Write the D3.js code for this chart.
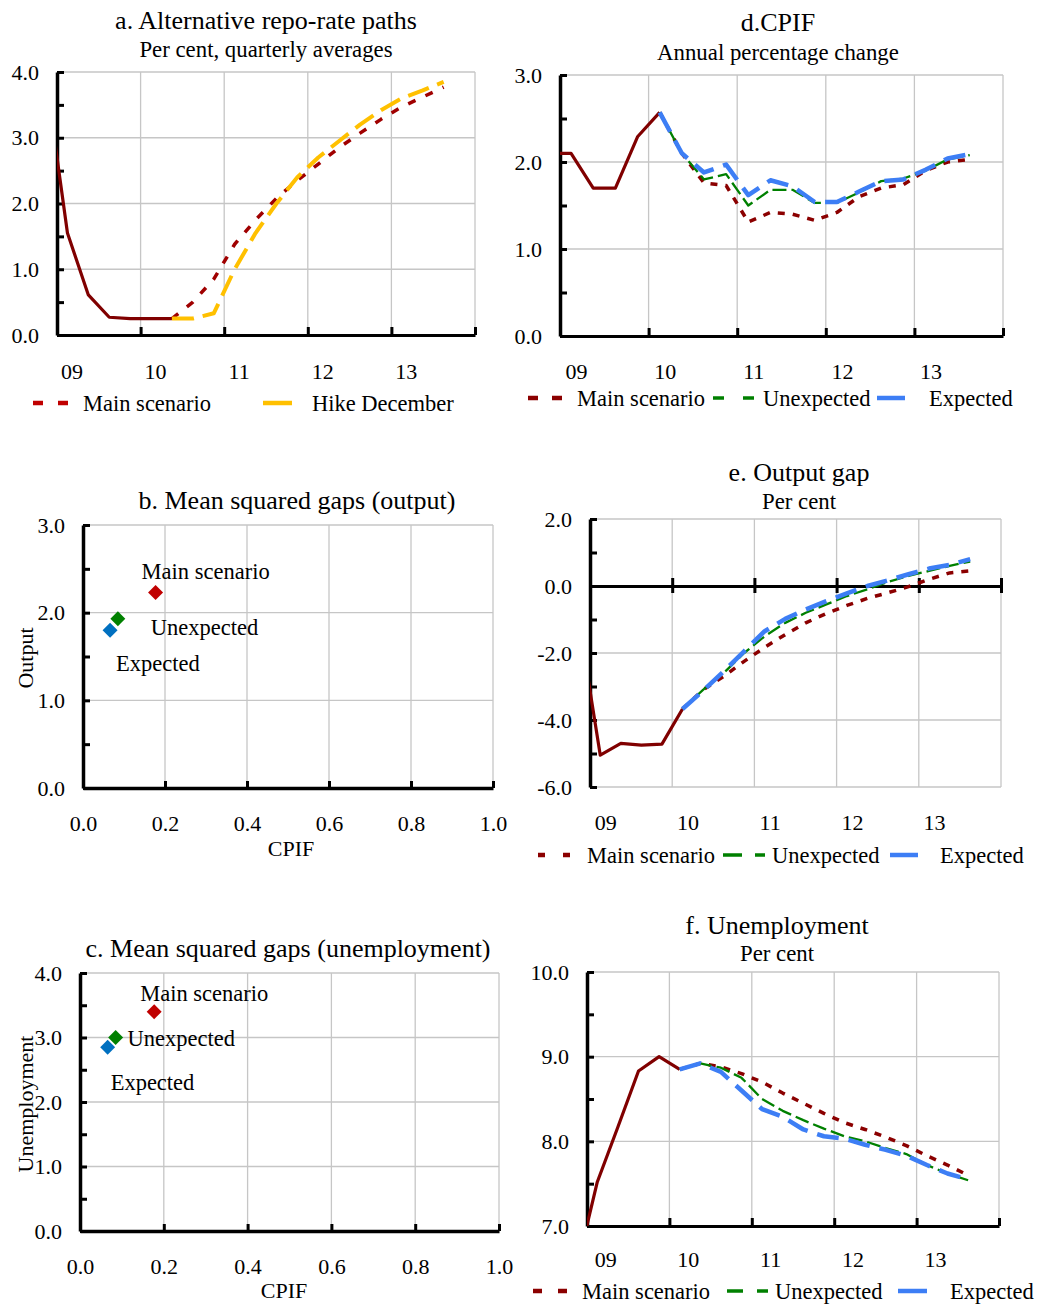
<!DOCTYPE html>
<html>
<head>
<meta charset="utf-8">
<title>Repo-rate paths</title>
<script src="https://d3js.org/d3.v7.min.js"></script>
<style>
  body { margin: 0; background: #fff; }
  svg text { font-family: "Liberation Serif", "Times New Roman", serif; fill: #000; }
</style>
</head>
<body>
<script>
  // quarters shown in the line panels (2008Q4 lies left of the axis and gets clipped)
  const quarters = ["2008Q4",
    "2009Q1","2009Q2","2009Q3","2009Q4",
    "2010Q1","2010Q2","2010Q3","2010Q4",
    "2011Q1","2011Q2","2011Q3","2011Q4",
    "2012Q1","2012Q2","2012Q3","2012Q4",
    "2013Q1","2013Q2","2013Q3"];
  const yearLabels = ["09", "10", "11", "12", "13"];

  // a. repo rate
  const repoOutcome = [3.85, 1.55, 0.61, 0.27, 0.25, 0.25, 0.25];
  const repoMain    = [0.25, 0.5, 0.85, 1.38, 1.75, 2.08, 2.35, 2.6, 2.85, 3.07, 3.28, 3.47, 3.62, 3.77];
  const repoHike    = [0.25, 0.25, 0.33, 1.0, 1.55, 2.0, 2.4, 2.7, 2.95, 3.2, 3.42, 3.6, 3.72, 3.85];

  // d. CPIF
  const cpifOutcome = [2.1, 2.1, 1.7, 1.7, 2.29, 2.57];
  const cpifMain    = [2.57, 2.1, 1.76, 1.73, 1.31, 1.42, 1.4, 1.33, 1.42, 1.6, 1.7, 1.74, 1.9, 2.0, 2.03];
  const cpifUnexp   = [2.57, 2.1, 1.8, 1.86, 1.5, 1.68, 1.68, 1.53, 1.53, 1.65, 1.78, 1.81, 1.9, 2.03, 2.08];
  const cpifExp     = [2.57, 2.1, 1.88, 1.97, 1.62, 1.79, 1.72, 1.54, 1.54, 1.66, 1.78, 1.8, 1.91, 2.04, 2.09];

  // e. output gap
  const gapOutcome = [-1.2, -5.05, -4.7, -4.75, -4.72, -3.67];
  const gapMain    = [-3.67, -3.1, -2.7, -2.25, -1.83, -1.45, -1.1, -0.82, -0.58, -0.37, -0.2, -0.02, 0.2, 0.39, 0.45];
  const gapUnexp   = [-3.67, -3.1, -2.6, -2.0, -1.5, -1.1, -0.8, -0.55, -0.3, -0.1, 0.12, 0.3, 0.45, 0.6, 0.73];
  const gapExp     = [-3.67, -3.13, -2.55, -1.95, -1.35, -0.98, -0.7, -0.45, -0.22, 0.0, 0.17, 0.35, 0.52, 0.63, 0.8];

  // f. unemployment
  const unempOutcome = [6.5, 7.52, 8.17, 8.83, 9.0, 8.85];
  const unempMain    = [8.85, 8.92, 8.88, 8.8, 8.7, 8.57, 8.45, 8.33, 8.22, 8.14, 8.05, 7.95, 7.83, 7.72, 7.6];
  const unempUnexp   = [8.85, 8.92, 8.87, 8.75, 8.5, 8.36, 8.25, 8.15, 8.06, 8.0, 7.92, 7.85, 7.72, 7.62, 7.54];
  const unempExp     = [8.85, 8.92, 8.82, 8.6, 8.38, 8.29, 8.14, 8.06, 8.03, 7.96, 7.9, 7.83, 7.72, 7.62, 7.55];

  // b, c. mean squared gaps
  const scenarioNames = ["Main scenario", "Unexpected", "Expected"];
  const msgCpif   = [0.177, 0.085, 0.066];
  const msgOutput = [2.23, 1.93, 1.80];
  const msgUnemp  = [3.40, 3.00, 2.85];

  // where the forecasts start in the quarters list
  const outcomeStart = 0;
  const repoForecastStart = 6;   // 2010Q2
  const forecastStart = 5;       // 2010Q1

  // align a series to the quarters list
  function pad(start, vals) {
    const out = quarters.map(() => null);
    vals.forEach((v, i) => out[start + i] = v);
    return out;
  }

  const W = 1038, H = 1305;
  const gridColor = "#c6c6c6";
  const tickFont = "22px", textFont = "22.5px";
  const styles = {
    outcome: { color: "#800000", width: 3.2, dash: null },
    mainA:   { color: "#a00000", width: 3.5, dash: "8,11" },
    hike:    { color: "#FFC000", width: 4,   dash: "22,9" },
    main:    { color: "#8b0000", width: 3.5, dash: "7,8" },
    unexp:   { color: "#008000", width: 2.3, dash: "14,5" },
    exp:     { color: "#3d7ef5", width: 4.5, dash: "22,10" }
  };
  const scatterColors = ["#c00000", "#008000", "#0070c0"];

  const svg = d3.select("body").append("svg")
    .attr("width", W)
    .attr("height", H);
  const defs = svg.append("defs");

  function title(x, y, text, size) {
    svg.append("text")
      .attr("x", x).attr("y", y)
      .attr("text-anchor", "middle")
      .attr("dy", "0.35em")
      .style("font-size", size + "px")
      .text(text);
  }

  function styleAxis(sel, domainWidth) {
    sel.attr("font-family", null).attr("font-size", null);
    sel.select(".domain").attr("stroke", "#000").attr("stroke-width", domainWidth);
    sel.selectAll(".tick line").attr("stroke", "#000").attr("stroke-width", 3);
    sel.selectAll(".tick text").style("font-size", tickFont);
  }

  function legend(y, items) {
    items.forEach(it => {
      const st = styles[it.style];
      svg.append("line")
        .attr("x1", it.x0).attr("x2", it.x1)
        .attr("y1", y).attr("y2", y)
        .attr("stroke", it.color || st.color)
        .attr("stroke-width", it.w)
        .attr("stroke-dasharray", it.dash);
      svg.append("text")
        .attr("x", it.tx).attr("y", y)
        .attr("dy", "0.35em")
        .style("font-size", textFont)
        .text(it.label);
    });
  }

  function drawLinePanel(p) {
    const g = svg.append("g");
    const x = d3.scaleLinear().domain([1, 21]).range([p.left, p.right]);
    const y = d3.scaleLinear().domain(p.yDomain).range([p.bottom, p.top]);
    const yearBounds = [1, 5, 9, 13, 17, 21];

    // gridlines
    g.append("g").selectAll("line").data(p.yGrid).join("line")
      .attr("x1", p.left).attr("x2", p.right)
      .attr("y1", d => y(d)).attr("y2", d => y(d))
      .attr("stroke", gridColor).attr("stroke-width", 1.3);
    g.append("g").selectAll("line").data(yearBounds.slice(1)).join("line")
      .attr("x1", d => x(d)).attr("x2", d => x(d))
      .attr("y1", p.top).attr("y2", p.bottom)
      .attr("stroke", gridColor).attr("stroke-width", 1.3);

    // y axis
    const ya = g.append("g")
      .attr("transform", `translate(${p.left},0)`)
      .call(d3.axisLeft(y).tickValues(p.yMajor).tickFormat(d => d.toFixed(1))
        .tickSizeInner(-7).tickSizeOuter(0).tickPadding(18));
    styleAxis(ya, 3.5);
    const ym = g.append("g")
      .attr("transform", `translate(${p.left},0)`)
      .call(d3.axisLeft(y).tickValues(p.yMinor).tickFormat("")
        .tickSizeInner(-7).tickSizeOuter(0));
    styleAxis(ym, 0);
    ym.select(".domain").remove();

    // x axis (at zero in the output gap panel)
    const xY = y(p.xAxisAt);
    const xa = g.append("g")
      .attr("transform", `translate(0,${xY})`)
      .call(d3.axisBottom(x).tickValues(yearBounds).tickFormat("")
        .tickSizeInner(p.crossTicks ? 7 : 0).tickSizeOuter(0));
    styleAxis(xa, 3);
    const xt = g.append("g")
      .attr("transform", `translate(0,${xY})`)
      .call(d3.axisBottom(x).tickValues(yearBounds).tickFormat("")
        .tickSizeInner(-8).tickSizeOuter(0));
    styleAxis(xt, 0);
    xt.select(".domain").remove();

    // year labels under the plot
    const xl = g.append("g")
      .attr("transform", `translate(${p.labelDx},${p.bottom + p.labelGap})`)
      .call(d3.axisBottom(x).tickValues([1.5, 5.5, 9.5, 13.5, 17.5])
        .tickFormat((d, i) => yearLabels[i]).tickSize(0));
    styleAxis(xl, 0);
    xl.select(".domain").remove();
    xl.selectAll("text").attr("y", 0).attr("dy", "0.35em");

    // series
    const clipId = "clip-" + p.id;
    defs.append("clipPath").attr("id", clipId)
      .append("rect")
      .attr("x", p.left).attr("y", p.top)
      .attr("width", p.right - p.left).attr("height", p.bottom - p.top);

    const line = d3.line()
      .defined(d => d.v != null)
      .x(d => x(d.k + 0.5))
      .y(d => y(d.v));

    p.series.forEach(s => {
      const st = styles[s.style];
      const pts = s.values.map((v, k) => ({ k: k, v: v }));
      g.append("path")
        .datum(pts)
        .attr("clip-path", `url(#${clipId})`)
        .attr("d", line)
        .attr("fill", "none")
        .attr("stroke", st.color)
        .attr("stroke-width", st.width)
        .attr("stroke-dasharray", st.dash)
        .attr("stroke-linejoin", "round");
    });
  }

  function drawScatterPanel(p) {
    const g = svg.append("g");
    const x = d3.scaleLinear().domain([0, 1]).range([p.left, p.right]);
    const y = d3.scaleLinear().domain(p.yDomain).range([p.bottom, p.top]);
    const xTicks = [0, 0.2, 0.4, 0.6, 0.8, 1.0];

    g.append("g").selectAll("line").data(p.yMajor.slice(1)).join("line")
      .attr("x1", p.left).attr("x2", p.right)
      .attr("y1", d => y(d)).attr("y2", d => y(d))
      .attr("stroke", gridColor).attr("stroke-width", 1.3);
    g.append("g").selectAll("line").data(xTicks.slice(1)).join("line")
      .attr("x1", d => x(d)).attr("x2", d => x(d))
      .attr("y1", p.top).attr("y2", p.bottom)
      .attr("stroke", gridColor).attr("stroke-width", 1.3);

    const ya = g.append("g")
      .attr("transform", `translate(${p.left},0)`)
      .call(d3.axisLeft(y).tickValues(p.yMajor).tickFormat(d => d.toFixed(1))
        .tickSizeInner(-7).tickSizeOuter(0).tickPadding(18));
    styleAxis(ya, 3.5);
    const ym = g.append("g")
      .attr("transform", `translate(${p.left},0)`)
      .call(d3.axisLeft(y).tickValues(p.yMinor).tickFormat("")
        .tickSizeInner(-7).tickSizeOuter(0));
    styleAxis(ym, 0);
    ym.select(".domain").remove();

    const xa = g.append("g")
      .attr("transform", `translate(0,${p.bottom})`)
      .call(d3.axisBottom(x).tickValues(xTicks).tickFormat(d => d.toFixed(1))
        .tickSizeInner(-7).tickSizeOuter(0));
    styleAxis(xa, 3.5);
    xa.selectAll("text").attr("y", 35).attr("dy", "0.35em");

    // axis titles
    svg.append("text")
      .attr("transform", `translate(${p.yTitleX},${p.yTitleY}) rotate(-90)`)
      .attr("text-anchor", "middle")
      .attr("dy", "0.35em")
      .style("font-size", tickFont)
      .text(p.yTitle);
    svg.append("text")
      .attr("x", p.xTitleX).attr("y", p.xTitleY)
      .attr("text-anchor", "middle")
      .attr("dy", "0.35em")
      .style("font-size", tickFont)
      .text("CPIF");

    const pts = scenarioNames.map((n, i) => ({ name: n, cx: msgCpif[i], cy: p.values[i], i: i }));
    const diamond = d3.symbol().type(d3.symbolSquare).size(112);
    g.selectAll("path.pt").data(pts).join("path")
      .attr("class", "pt")
      .attr("d", diamond)
      .attr("transform", d => `translate(${x(d.cx)},${y(d.cy)}) rotate(45)`)
      .attr("fill", d => scatterColors[d.i]);

    g.selectAll("text.lab").data(pts).join("text")
      .attr("class", "lab")
      .attr("x", d => x(d.cx) + p.labelOffsets[d.i][0])
      .attr("y", d => y(d.cy) + p.labelOffsets[d.i][1])
      .attr("dy", "0.35em")
      .style("font-size", textFont)
      .text(d => d.name);
  }

  // ---- a. Alternative repo-rate paths
  title(266, 20, "a. Alternative repo-rate paths", 26);
  title(266, 49, "Per cent, quarterly averages", 22.8);
  drawLinePanel({
    id: "a", left: 57, right: 475, top: 72, bottom: 335,
    yDomain: [0, 4], yMajor: [0, 1, 2, 3, 4], yMinor: [0.5, 1.5, 2.5, 3.5], yGrid: [1, 2, 3, 4],
    xAxisAt: 0, labelDx: 4, labelGap: 36,
    series: [
      { style: "outcome", values: pad(outcomeStart, repoOutcome) },
      { style: "mainA", values: pad(repoForecastStart, repoMain) },
      { style: "hike", values: pad(repoForecastStart, repoHike) }
    ]
  });
  legend(403, [
    { style: "mainA", color: "#c00000", x0: 33, x1: 68, w: 4.5, dash: "10,15", tx: 83, label: "Main scenario" },
    { style: "hike", x0: 263, x1: 292, w: 4.5, dash: null, tx: 312, label: "Hike December" }
  ]);

  // ---- d. CPIF
  title(778, 22, "d.CPIF", 26);
  title(778, 52, "Annual percentage change", 22.8);
  drawLinePanel({
    id: "d", left: 560, right: 1003, top: 75, bottom: 336,
    yDomain: [0, 3], yMajor: [0, 1, 2, 3], yMinor: [0.5, 1.5, 2.5], yGrid: [1, 2, 3],
    xAxisAt: 0, labelDx: 5, labelGap: 35,
    series: [
      { style: "outcome", values: pad(outcomeStart, cpifOutcome) },
      { style: "main", values: pad(forecastStart, cpifMain) },
      { style: "unexp", values: pad(forecastStart, cpifUnexp) },
      { style: "exp", values: pad(forecastStart, cpifExp) }
    ]
  });
  legend(398, [
    { style: "main", x0: 528, x1: 562, w: 4.5, dash: "10,14", tx: 577, label: "Main scenario" },
    { style: "unexp", x0: 713, x1: 755, w: 3.5, dash: "11,19", tx: 763, label: "Unexpected" },
    { style: "exp", x0: 877, x1: 905, w: 4.5, dash: null, tx: 929, label: "Expected" }
  ]);

  // ---- b. Mean squared gaps (output)
  title(297, 500, "b. Mean squared gaps (output)", 26);
  drawScatterPanel({
    left: 83, right: 493, top: 525, bottom: 788,
    yDomain: [0, 3], yMajor: [0, 1, 2, 3], yMinor: [0.5, 1.5, 2.5],
    values: msgOutput, yTitle: "Output", yTitleX: 25, yTitleY: 658,
    xTitleX: 291, xTitleY: 848,
    labelOffsets: [[-14, -21], [33, 8], [6, 33]]
  });

  // ---- e. Output gap
  title(799, 472, "e. Output gap", 26);
  title(799, 501, "Per cent", 22.8);
  drawLinePanel({
    id: "e", left: 590, right: 1001, top: 519, bottom: 787,
    yDomain: [-6, 2], yMajor: [-6, -4, -2, 0, 2], yMinor: [-5, -3, -1, 1], yGrid: [-6, -4, -2, 2],
    xAxisAt: 0, crossTicks: true, labelDx: 5, labelGap: 35,
    series: [
      { style: "outcome", values: pad(outcomeStart, gapOutcome) },
      { style: "main", values: pad(forecastStart, gapMain) },
      { style: "unexp", values: pad(forecastStart, gapUnexp) },
      { style: "exp", values: pad(forecastStart, gapExp) }
    ]
  });
  legend(855, [
    { style: "main", x0: 538, x1: 570, w: 4.5, dash: "7,18", tx: 587, label: "Main scenario" },
    { style: "unexp", x0: 723, x1: 765, w: 3.5, dash: "19,13", tx: 772, label: "Unexpected" },
    { style: "exp", x0: 890, x1: 918, w: 4.5, dash: null, tx: 940, label: "Expected" }
  ]);

  // ---- c. Mean squared gaps (unemployment)
  title(288, 948, "c. Mean squared gaps (unemployment)", 26);
  drawScatterPanel({
    left: 80, right: 499, top: 973, bottom: 1231,
    yDomain: [0, 4], yMajor: [0, 1, 2, 3, 4], yMinor: [0.5, 1.5, 2.5, 3.5],
    values: msgUnemp, yTitle: "Unemployment", yTitleX: 25, yTitleY: 1104,
    xTitleX: 284, xTitleY: 1290,
    labelOffsets: [[-14, -19], [12, 1], [3, 35]]
  });

  // ---- f. Unemployment
  title(777, 925, "f. Unemployment", 26);
  title(777, 953, "Per cent", 22.8);
  drawLinePanel({
    id: "f", left: 587, right: 999, top: 972, bottom: 1226,
    yDomain: [7, 10], yMajor: [7, 8, 9, 10], yMinor: [7.5, 8.5, 9.5], yGrid: [8, 9, 10],
    xAxisAt: 7, labelDx: 8, labelGap: 33,
    series: [
      { style: "outcome", values: pad(outcomeStart, unempOutcome) },
      { style: "main", values: pad(forecastStart, unempMain) },
      { style: "unexp", values: pad(forecastStart, unempUnexp) },
      { style: "exp", values: pad(forecastStart, unempExp) }
    ]
  });
  legend(1291, [
    { style: "main", x0: 533, x1: 567, w: 4.5, dash: "9,16", tx: 582, label: "Main scenario" },
    { style: "unexp", x0: 727, x1: 768, w: 3.5, dash: "16,14", tx: 775, label: "Unexpected" },
    { style: "exp", x0: 898, x1: 927, w: 4.5, dash: null, tx: 950, label: "Expected" }
  ]);
</script>
</body>
</html>
